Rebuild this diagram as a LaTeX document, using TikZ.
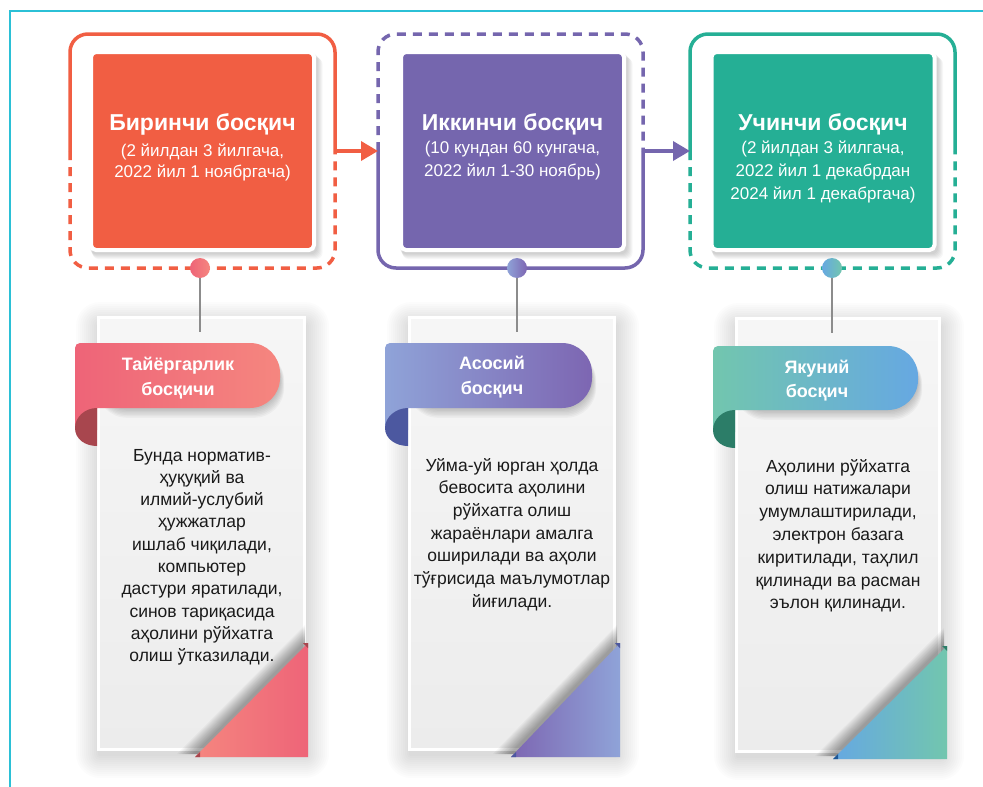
\documentclass[tikz,border=0pt]{standalone}
\usepackage{fontspec}
\setmainfont{Liberation Sans}
\usetikzlibrary{arrows.meta}
\definecolor{cOr}{HTML}{F15E43}
\definecolor{cPu}{HTML}{7566AE}
\definecolor{cTe}{HTML}{25AF95}
\definecolor{cFrame}{HTML}{2BC0D6}
\definecolor{cardtop}{HTML}{F6F6F6}
\definecolor{cardbot}{HTML}{ECECEC}
\definecolor{pinA}{HTML}{EE6478}\definecolor{pinB}{HTML}{F5867F}\definecolor{curlA}{HTML}{A8464E}
\definecolor{puA}{HTML}{8FA3D8}\definecolor{puB}{HTML}{7D66B2}\definecolor{curlB}{HTML}{4C58A0}
\definecolor{teA}{HTML}{72C6AE}\definecolor{teB}{HTML}{66A8E2}\definecolor{curlC}{HTML}{2C7D68}
\definecolor{txt}{HTML}{1A1A1A}
\definecolor{pingray}{HTML}{8C8C8C}
\begin{document}
\begin{tikzpicture}[x=1pt,y=-1pt,
  frameline/.style={line width=3.5pt, rounded corners=18pt},
  dashline/.style={frameline, dash pattern=on 9pt off 7pt},
  framebox/.style={minimum width=265pt, minimum height=234pt, inner sep=0pt, outer sep=0pt},
  arrowline/.style={line width=3.5pt, -{Triangle[length=17pt,width=19pt]}},
  colbox/.style={minimum width=223pt, minimum height=198pt, rounded corners=5pt, draw=white, line width=4pt, inner sep=0pt, outer sep=0pt},
  titletext/.style={font=\fontsize{23}{27}\selectfont\bfseries, text=white, anchor=base, inner sep=0pt},
  subtext/.style={font=\fontsize{17}{20}\selectfont, text=white, anchor=base, inner sep=0pt},
  bodytext/.style={font=\fontsize{17.5}{21}\selectfont, text=txt, anchor=base, inner sep=0pt},
  ribtext/.style={font=\fontsize{18}{21}\selectfont\bfseries, text=white, anchor=base, inner sep=0pt},
  card/.style={draw=white, line width=3pt, top color=cardtop, bottom color=cardbot, inner sep=0pt, outer sep=0pt},
  dot/.style={circle, minimum size=20pt, inner sep=0pt},
  pin/.style={draw=pingray, line width=1.2pt}
]
\useasboundingbox (0,0) rectangle (983,787);
\fill[white] (0,0) rectangle (983,787);
\draw[cFrame, line width=2.2pt] (10,787) -- (10,11) -- (983,11);

% ---------- top frames ----------
\node[framebox] (f1) at (202.5,151) {};
\node[framebox] (f2) at (510.5,151) {};
\node[framebox] (f3) at (822.5,151) {};

\draw[frameline, cOr] (f1.west) -- (f1.north west) -- (f1.north east) -- (f1.east);
\draw[dashline, cOr] (f1.west) -- (f1.south west) -- (f1.south east) -- (f1.east);
\draw[dashline, cPu] (f2.west) -- (f2.north west) -- (f2.north east) -- (f2.east);
\draw[frameline, cPu] (f2.west) -- (f2.south west) -- (f2.south east) -- (f2.east);
\draw[frameline, cTe] (f3.west) -- (f3.north west) -- (f3.north east) -- (f3.east);
\draw[dashline, cTe] (f3.west) -- (f3.south west) -- (f3.south east) -- (f3.east);

\draw[arrowline, cOr] (f1.east) -- (f2.west);
\draw[arrowline, cPu] (f2.east) -- (f3.west);

% box shadows
\foreach \cx in {202.5,512.5,823}{
  \foreach \s in {1,...,6}{
    \fill[black, opacity=0.03, rounded corners=6pt] (\cx-113+\s*0.5, 52+\s) rectangle (\cx+114+\s, 253+\s);
  }
}
\node[colbox, fill=cOr] (b1) at (202.5,151) {};
\node[colbox, fill=cPu] (b2) at (512.5,151) {};
\node[colbox, fill=cTe] (b3) at (823,151) {};

\node[titletext] (b1t) at (202.5,130) {Биринчи босқич};
\node[subtext] (b1a) at (202.5,156.5) {(2 йилдан 3 йилгача,};
\node[subtext] (b1b) at (202.5,177.5) {2022 йил 1 ноябргача)};

\node[titletext] (b2t) at (512.5,130) {Иккинчи босқич};
\node[subtext] (b2a) at (512.5,153.5) {(10 кундан 60 кунгача,};
\node[subtext] (b2b) at (512.5,176) {2022 йил 1-30 ноябрь)};

\node[titletext] (b3t) at (823,130) {Учинчи босқич};
\node[subtext] (b3a) at (823,153.5) {(2 йилдан 3 йилгача,};
\node[subtext] (b3b) at (823,176) {2022 йил 1 декабрдан};
\node[subtext] (b3c) at (823,199) {2024 йил 1 декабргача)};

% ---------- dots ----------
\node[dot, left color=pinA, right color=pinB] (d1) at (200,268) {};
\node[dot, left color=puA, right color=puB] (d2) at (517,268) {};
\node[dot, left color=teB, right color=teA] (d3) at (832,268) {};

% ---------- cards ----------
\foreach \xa/\ya/\xb/\yb in {97/316/306/751, 408/316/616/751, 735/317/941/753}{
  \foreach \s in {2,4,...,24}{
    \fill[black, opacity=0.010, rounded corners=\s pt] (\xa-\s+3, \ya-\s+10) rectangle (\xb+\s-1, \yb+\s+3);
  }
}
\node[card, minimum width=206pt, minimum height=432pt] (c1) at (201.5,533.5) {};
\node[card, minimum width=205pt, minimum height=432pt] (c2) at (512,533.5) {};
\node[card, minimum width=203pt, minimum height=433pt] (c3) at (838,535) {};

\coordinate (e1) at (200,332);
\coordinate (e2) at (517,332);
\coordinate (e3) at (832,333);
\draw[pin] (d1.south) -- (e1);
\draw[pin] (d2.south) -- (e2);
\draw[pin] (d3.south) -- (e3);

% ---------- corner triangles ----------
\foreach \tl/\tr/\tt/\tb in {195/308/643/757, 511/620/643/757, 833/947/646/759}{
  \foreach \s in {1,...,12}{
    \fill[black, opacity=0.03] (\tl-\s*1.5, \tb-3) -- (\tr-3, \tt-\s*1.5) -- (\tr-3,\tb-3) -- cycle;
  }
}
\shade[left color=pinB, right color=pinA] (195,757) -- (308,757) -- (308,643) -- cycle;
\shade[left color=puB, right color=puA] (511,757) -- (620,757) -- (620,643) -- cycle;
\shade[left color=teB, right color=teA] (833,759) -- (947,759) -- (947,646) -- cycle;
\fill[curlA] (303,643) -- (308,643) -- (308,648) -- cycle;
\fill[curlA] (195,757) -- (200,752) -- (200,757) -- cycle;
\fill[curlB] (615,643) -- (620,643) -- (620,648) -- cycle;
\fill[curlB] (511,757) -- (516,752) -- (516,757) -- cycle;
\fill[curlC] (942,646) -- (947,646) -- (947,651) -- cycle;
\fill[curlC!70!blue] (833,759) -- (838,754) -- (838,759) -- cycle;

% ---------- ribbons ----------
\foreach \xa/\xb/\xc/\ya/\yb in {75/97/280/343/408, 385/408/592/343/408, 713/735/918/346/410}{
  \foreach \s in {1,...,7}{
    \fill[black, opacity=0.03, rounded corners=30pt] (\xb, \ya+8) rectangle (\xc+\s*0.6, \yb+\s*1.4);
  }
}
\shade[left color=pinA, right color=pinB] [rounded corners=30pt] (75,343) rectangle (280,408)
  [rounded corners=5pt] (75,343) rectangle (140,408) [sharp corners] (75,380) rectangle (97,430);
\fill[curlA] (97,408) .. controls (85,408) and (75,417) .. (75,428) .. controls (75,439) and (85,446) .. (97,446) -- cycle;

\shade[left color=puA, right color=puB] [rounded corners=30pt] (385,343) rectangle (592,408)
  [rounded corners=5pt] (385,343) rectangle (450,408) [sharp corners] (385,380) rectangle (408,430);
\fill[curlB] (408,408) .. controls (396,408) and (385,417) .. (385,428) .. controls (385,439) and (396,446) .. (408,446) -- cycle;

\shade[left color=teA, right color=teB] [rounded corners=30pt] (713,346) rectangle (918,410)
  [rounded corners=5pt] (713,346) rectangle (778,410) [sharp corners] (713,382) rectangle (735,432);
\fill[curlC] (735,410) .. controls (723,410) and (713,419) .. (713,430) .. controls (713,441) and (723,448) .. (735,448) -- cycle;

\node[ribtext] (r1a) at (178,370) {Тайёргарлик};
\node[ribtext] (r1b) at (178,395) {босқичи};
\node[ribtext] (r2a) at (492,369.5) {Асосий};
\node[ribtext] (r2b) at (492,394) {босқич};
\node[ribtext] (r3a) at (817,373.5) {Якуний};
\node[ribtext] (r3b) at (817,397) {босқич};

% ---------- card texts ----------
\foreach \t [count=\i] in {Бунда норматив-, ҳуқуқий ва, илмий-услубий, ҳужжатлар, {ишлаб чиқилади,}, компьютер, {дастури яратилади,}, синов тариқасида, аҳолини рўйхатга, олиш ўтказилади.}{
  \node[bodytext] (p1-\i) at (202, 461+\i*22.3-22.3) {\t};
}
\foreach \t [count=\i] in {Уйма-уй юрган ҳолда, бевосита аҳолини, рўйхатга олиш, жараёнлари амалга, оширилади ва аҳоли, тўғрисида маълумотлар, йиғилади.}{
  \node[bodytext] (p2-\i) at (512, 471+\i*22.7-22.7) {\t};
}
\foreach \t [count=\i] in {Аҳолини рўйхатга, олиш натижалари, {умумлаштирилади,}, электрон базага, {киритилади, таҳлил}, қилинади ва расман, эълон қилинади.}{
  \node[bodytext] (p3-\i) at (838, 472+\i*22.8-22.8) {\t};
}
\end{tikzpicture}
\end{document}
